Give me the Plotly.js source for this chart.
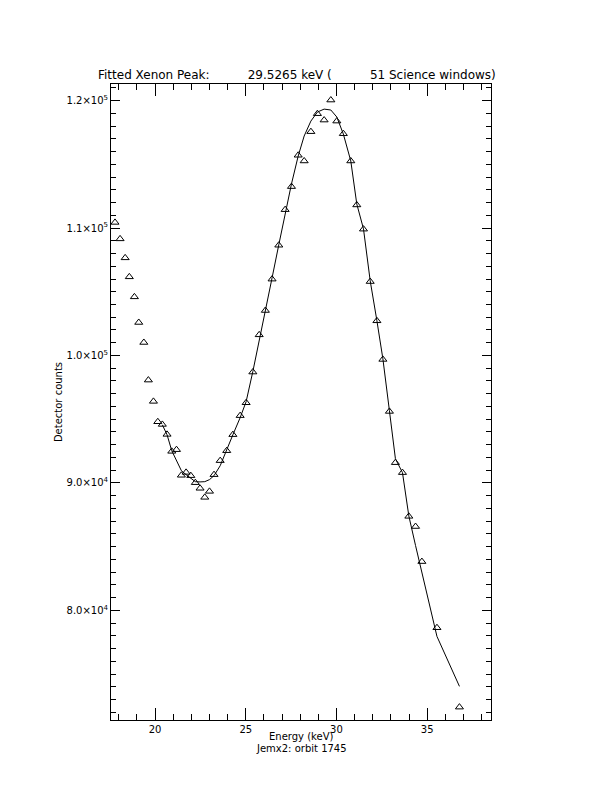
<!DOCTYPE html>
<html>
<head>
<meta charset="utf-8">
<script src="https://cdn.plot.ly/plotly-3.0.1.min.js"></script>
<style>html,body{margin:0;padding:0;background:#fff;}#chart{width:612px;height:792px;}</style>
</head>
<body>
<div id="chart"></div>
<script>
// Measured spectrum (energy in keV, detector counts)
const energy = [17.79, 18.07, 18.35, 18.58, 18.86, 19.10, 19.38, 19.63, 19.91, 20.15,
  20.40, 20.66, 20.92, 21.18, 21.45, 21.71, 21.97, 22.22, 22.48, 22.74,
  23.00, 23.25, 23.59, 23.95, 24.29, 24.69, 25.02, 25.39, 25.74, 26.08,
  26.45, 26.82, 27.17, 27.52, 27.89, 28.22, 28.59, 28.95, 29.32, 29.69,
  30.02, 30.38, 30.79, 31.12, 31.49, 31.86, 32.23, 32.56, 32.92, 33.25,
  33.64, 33.99, 34.36, 34.71, 35.54, 36.78];
const counts = [110440, 109150, 107660, 106170, 104600, 102590, 101020, 98070, 96400, 94800,
  94590, 93810, 92480, 92610, 90600, 90830, 90570, 90020, 89580, 88870,
  89340, 90650, 91750, 92530, 93790, 95280, 96290, 98700, 101620, 103530,
  105990, 108650, 111440, 113250, 115710, 115260, 117560, 118970, 118470, 120040,
  118390, 117400, 115260, 111810, 109910, 105800, 102720, 99690, 95610, 91590,
  90810, 87380, 86580, 83830, 78640, 72410];
// Fitted model, evaluated at the channels from 20.40 keV upward
const fitStartIndex = 10;
const fitCounts = [94560, 93780, 92530, 91740, 90960, 90650, 90390, 90100, 90080, 90100,
  90260, 90570, 91350, 92530, 93780, 95120, 96380, 98740, 101250, 103580,
  106090, 108680, 111190, 113460, 115650, 117220, 118390, 119100, 119330, 119260,
  118710, 117370, 115260, 111890, 109930, 105860, 102720, 99740, 95670, 91900,
  90810, 87410, 85090, 82990, 77960, 74040];
const fitEnergy = energy.slice(fitStartIndex);

const yTickVals = [80000, 90000, 100000, 110000, 120000];
const yTickText = ['8.0×10<sup>4</sup>', '9.0×10<sup>4</sup>', '1.0×10<sup>5</sup>', '1.1×10<sup>5</sup>', '1.2×10<sup>5</sup>'];
const xTickVals = [20, 25, 30, 35];
const xTickText = ['20', '25', '30', '35'];

const titleText = 'Fitted Xenon Peak:' + '\u00a0'.repeat(10) + '29.5265 keV (' + '\u00a0'.repeat(10) + '51 Science windows)';
const xTitle = 'Energy (keV)';
const subTitle = 'Jemx2: orbit 1745';
const yTitle = 'Detector counts';

const FONT = 'DejaVu Sans, sans-serif';

const traces = [
  {
    x: energy, y: counts, type: 'scatter', mode: 'markers',
    marker: {symbol: 'triangle-up-open', size: 7, color: '#000', line: {color: '#000', width: 1}},
    showlegend: false, hoverinfo: 'skip'
  },
  {
    x: fitEnergy, y: fitCounts, type: 'scatter', mode: 'lines',
    line: {color: '#000', width: 1},
    showlegend: false, hoverinfo: 'skip'
  }
];

const axisCommon = {
  showline: true, linecolor: '#000', linewidth: 1, mirror: 'allticks',
  ticks: 'inside', tickcolor: '#000', tickwidth: 1,
  showgrid: false, zeroline: false,
  tickfont: {family: FONT, size: 10, color: '#000'}
};

const layout = {
  width: 612, height: 792, autosize: false,
  paper_bgcolor: '#fff', plot_bgcolor: '#fff',
  margin: {l: 111, r: 121, t: 84, b: 72, pad: 0},
  font: {family: FONT, size: 10, color: '#000'},
  title: {
    text: titleText,
    font: {family: FONT, size: 12, color: '#000'},
    xref: 'container', yref: 'container',
    x: 98 / 612, xanchor: 'left',
    y: 1 - 75 / 792, yanchor: 'middle'
  },
  xaxis: Object.assign({}, axisCommon, {
    range: [17.57, 38.52],
    tickmode: 'array', tickvals: xTickVals, ticktext: xTickText,
    ticklen: 12,
    minor: {ticks: 'inside', ticklen: 6, dtick: 1, tick0: 0, tickcolor: '#000', tickwidth: 1, showgrid: false}
  }),
  yaxis: Object.assign({}, axisCommon, {
    range: [71400, 121300],
    tickmode: 'array', tickvals: yTickVals, ticktext: yTickText,
    ticklen: 9,
    minor: {ticks: 'inside', ticklen: 5, dtick: 1000, tick0: 0, tickcolor: '#000', tickwidth: 1, showgrid: false},
    title: {text: yTitle, font: {family: FONT, size: 10, color: '#000'}, standoff: 2}
  }),
  annotations: [
    {
      text: xTitle, xref: 'paper', yref: 'paper', x: 0.5, y: 0,
      yshift: -9, xanchor: 'center', yanchor: 'top', showarrow: false,
      font: {family: FONT, size: 10, color: '#000'}
    },
    {
      text: subTitle, xref: 'paper', yref: 'paper', x: 0.5, y: 0,
      yshift: -21, xanchor: 'center', yanchor: 'top', showarrow: false,
      font: {family: FONT, size: 10, color: '#000'}
    }
  ]
};

Plotly.newPlot('chart', traces, layout, {displayModeBar: false, staticPlot: true});
</script>
</body>
</html>
